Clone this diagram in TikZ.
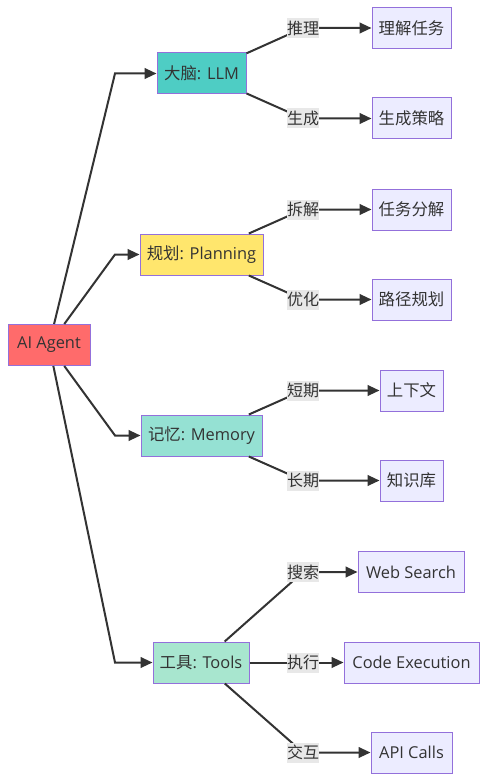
\documentclass[tikz,border=0pt]{standalone}
\usepackage{fontspec}
\setmainfont{Open Sans}
\newfontfamily\cjk{Noto Sans CJK SC}
\usetikzlibrary{arrows.meta}
\definecolor{boxline}{HTML}{9370DB}
\definecolor{leaffill}{HTML}{ECECFF}
\definecolor{labfill}{HTML}{E8E8E8}
\definecolor{txt}{HTML}{333333}
\definecolor{edgec}{HTML}{333333}
\definecolor{agentfill}{HTML}{FF6B6B}
\definecolor{llmfill}{HTML}{4ECDC4}
\definecolor{planfill}{HTML}{FFE66D}
\definecolor{memfill}{HTML}{95E1D3}
\definecolor{toolfill}{HTML}{A8E6CF}
\begin{document}
\begin{tikzpicture}[x=0.75pt,y=-0.75pt,
  box/.style={draw=boxline, line width=0.75pt, text=txt, font=\fontsize{12.3}{14}\selectfont, minimum height=30.75pt, inner sep=0pt},
  wd/.style={minimum width=#1*0.75pt},
  leaf/.style={box, fill=leaffill},
  lab/.style={fill=labfill, text=txt, inner sep=0pt, minimum height=15pt, font=\fontsize{12}{14}\selectfont\cjk},
  edge/.style={draw=edgec, line width=1.5pt, -{Triangle[length=9pt,width=8pt]}}]
\fill[white] (0,0) rectangle (487,781);
\useasboundingbox (0,0) rectangle (487,781);

% main nodes
\node[box, fill=agentfill, wd=82] (agent) at (49,345) {AI Agent};
\node[box, fill=llmfill, wd=89] (llm) at (201.5,73.5) {{\cjk 大脑}: LLM};
\node[box, fill=planfill, wd=123] (plan) at (201.5,254.5) {{\cjk 规划}: Planning};
\node[box, fill=memfill, wd=121] (mem) at (201.5,435.5) {{\cjk 记忆}: Memory};
\node[box, fill=toolfill, wd=96] (tool) at (201,662.5) {{\cjk 工具}: Tools};

% leaves
\node[leaf, wd=79] (t1) at (411.5,28) {\cjk 理解任务};
\node[leaf, wd=79] (t2) at (411.5,118.5) {\cjk 生成策略};
\node[leaf, wd=79] (t3) at (411.5,209.5) {\cjk 任务分解};
\node[leaf, wd=79] (t4) at (411.5,299.5) {\cjk 路径规划};
\node[leaf, wd=63] (t5) at (411.5,390.5) {\cjk 上下文};
\node[leaf, wd=63] (t6) at (411.5,480.5) {\cjk 知识库};
\node[leaf, wd=106] (t7) at (411,572) {Web Search};
\node[leaf, wd=135] (t8) at (411.5,662.5) {Code Execution};
\node[leaf, wd=81] (t9) at (411.5,752.5) {API Calls};

% label positions
\coordinate (c1) at (303,28);
\coordinate (c2) at (303,118.5);
\coordinate (c3) at (303,209.5);
\coordinate (c4) at (303,299.5);
\coordinate (c5) at (303,390.5);
\coordinate (c6) at (303,480.5);
\coordinate (c7) at (303,572);
\coordinate (c8) at (303,662.5);
\coordinate (c9) at (303,752.5);

% agent edges
\coordinate (k1) at (115,73.5);
\coordinate (k2) at (115,254.5);
\coordinate (k3) at (115,435.5);
\coordinate (k4) at (115,662.5);
\draw[edge] (agent) -- (k1) -- (llm.west);
\draw[edge] (agent) -- (k2) -- (plan.west);
\draw[edge] (agent) -- (k3) -- (mem.west);
\draw[edge] (agent) -- (k4) -- (tool.west);

% branch edges
\draw[edge] (llm) -- (c1) -- (t1.west);
\draw[edge] (llm) -- (c2) -- (t2.west);
\draw[edge] (plan) -- (c3) -- (t3.west);
\draw[edge] (plan) -- (c4) -- (t4.west);
\draw[edge] (mem) -- (c5) -- (t5.west);
\draw[edge] (mem) -- (c6) -- (t6.west);
\draw[edge] (tool) -- (c7) -- (t7.west);
\draw[edge] (tool) -- (c8) -- (t8.west);
\draw[edge] (tool) -- (c9) -- (t9.west);

% edge labels
\node[lab] (l1) at (c1) {推理};
\node[lab] (l2) at (c2) {生成};
\node[lab] (l3) at (c3) {拆解};
\node[lab] (l4) at (c4) {优化};
\node[lab] (l5) at (c5) {短期};
\node[lab] (l6) at (c6) {长期};
\node[lab] (l7) at (c7) {搜索};
\node[lab] (l8) at (c8) {执行};
\node[lab] (l9) at (c9) {交互};
\end{tikzpicture}
\end{document}
